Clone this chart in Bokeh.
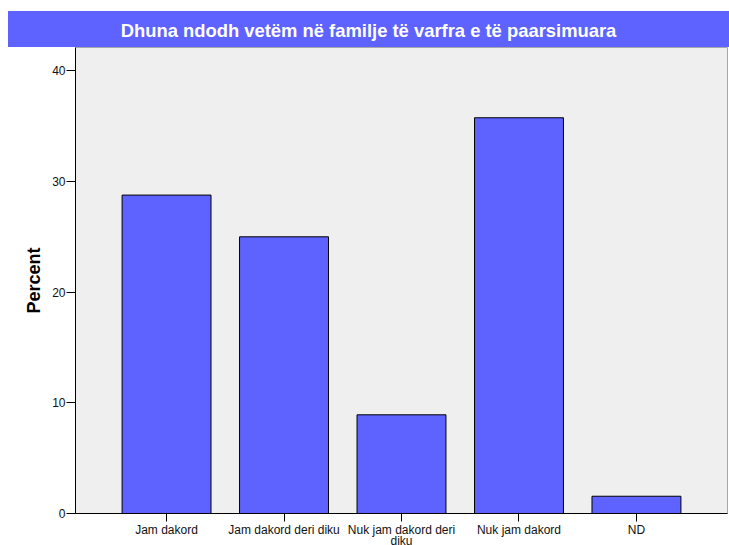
from bokeh.plotting import figure
from bokeh.models import FactorRange, Range1d, FixedTicker, Div
from bokeh.layouts import column
from bokeh.embed import file_html
from bokeh.resources import INLINE

title_text = "Dhuna ndodh vetëm në familje të varfra e të paarsimuara"
categories = ["Jam dakord", "Jam dakord deri diku", "Nuk jam dakord deri\ndiku",
              "Nuk jam dakord", "ND"]
percent = [28.78, 25.01, 8.92, 35.77, 1.56]
y_ticks = [0, 10, 20, 30, 40]
y_label = "Percent"

BAR = "#5e62ff"

div = Div(
    text=(f'<div style="margin-top:11px;margin-left:8px;width:721px;height:36px;background:{BAR};'
          'color:white;font-family:\'Liberation Sans\',Arial,sans-serif;font-weight:bold;'
          f'font-size:18.4px;text-align:center;line-height:39px;white-space:nowrap;">{title_text}</div>'),
    width=729, height=47, margin=(0, 0, 0, 0),
)

p = figure(
    x_range=FactorRange(factors=categories, range_padding=0.275, range_padding_units="absolute"),
    y_range=Range1d(0, 42.12),
    frame_width=652, frame_height=466,
    min_border_left=75, min_border_right=2, min_border_top=0, min_border_bottom=0,
    output_backend="svg", toolbar_location=None,
    background_fill_color="#efefef", border_fill_color="white",
    outline_line_color="#a8a8a8",
    margin=(0, 0, 0, 0),
)

p.vbar(x=categories, top=percent, width=0.757, fill_color=BAR,
       line_color="black", line_width=1)

p.xgrid.visible = False
p.ygrid.visible = False

p.yaxis.ticker = FixedTicker(ticks=y_ticks)
p.yaxis.axis_label = y_label
p.yaxis.axis_label_text_font = "Liberation Sans"
p.yaxis.axis_label_text_font_style = "bold"
p.yaxis.axis_label_text_font_size = "18px"
p.yaxis.axis_label_text_color = "black"
p.yaxis.axis_label_standoff = 5
p.yaxis.major_tick_out = 9
p.yaxis.major_tick_in = 0
p.yaxis.minor_tick_out = 0
p.yaxis.minor_tick_in = 0
p.yaxis.major_label_standoff = 1

p.xaxis.major_tick_out = 8
p.xaxis.major_tick_in = 0
p.xaxis.major_label_standoff = 1
p.xaxis.major_label_text_line_height = 0.85

for ax in (p.xaxis, p.yaxis):
    ax.axis_line_color = "black"
    ax.axis_line_width = 1
    ax.major_tick_line_color = "black"
    ax.major_label_text_font = "Liberation Sans"
    ax.major_label_text_font_size = "12px"
    ax.major_label_text_color = "#111111"

layout = column(div, p, spacing=0)
open("out.html", "w").write(file_html(layout, INLINE))
